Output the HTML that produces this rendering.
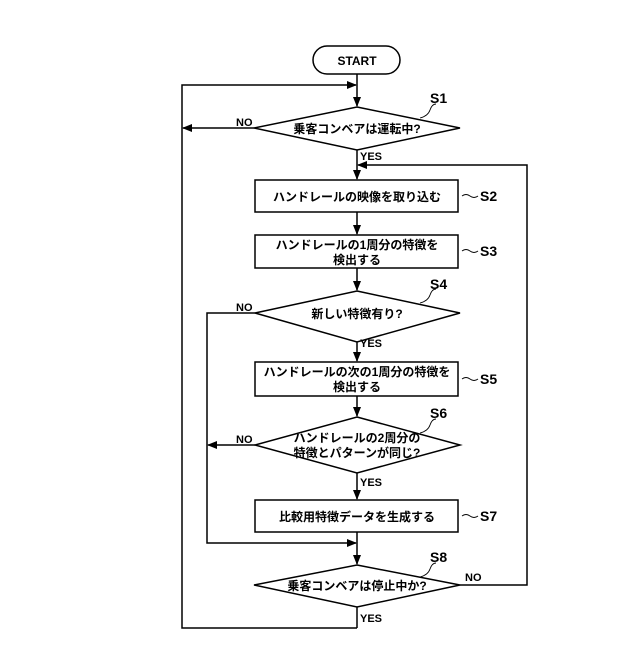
<!DOCTYPE html>
<html><head><meta charset="utf-8"><style>body{margin:0;background:#fff}</style></head><body>
<svg width="640" height="640" xmlns="http://www.w3.org/2000/svg" font-family="'Liberation Sans','Noto Sans CJK JP',sans-serif" font-size="12">
<defs><marker id="a" markerWidth="10" markerHeight="8" refX="9" refY="4" orient="auto" markerUnits="userSpaceOnUse"><path d="M0,0 L10,4 L0,8 z" fill="#000"/></marker></defs>
<g stroke="#000" stroke-width="1.5" fill="none">
<rect x="313" y="46" width="87" height="28" rx="14"/>
<line x1="357" y1="74" x2="357" y2="106" marker-end="url(#a)"/>
<polyline points="357,628 182,628 182,85 356,85" marker-end="url(#a)"/>
<polygon points="357,107 460,128 357,150 254,128"/>
<line x1="254" y1="128" x2="183" y2="128" marker-end="url(#a)"/>
<line x1="357" y1="150" x2="357" y2="179" marker-end="url(#a)"/>
<polyline points="460,585 527,585 527,165 358,165" marker-end="url(#a)"/>
<rect x="255" y="180" width="203" height="32"/>
<line x1="357" y1="212" x2="357" y2="234" marker-end="url(#a)"/>
<rect x="255" y="235" width="203" height="33"/>
<line x1="357" y1="268" x2="357" y2="290" marker-end="url(#a)"/>
<polygon points="357,291 460,313 357,342 255,313"/>
<polyline points="255,313 207,313 207,543 356,543" marker-end="url(#a)"/>
<line x1="357" y1="342" x2="357" y2="361" marker-end="url(#a)"/>
<rect x="255" y="362" width="203" height="34"/>
<line x1="357" y1="396" x2="357" y2="416" marker-end="url(#a)"/>
<polygon points="357,417 460,445 357,473 255,445"/>
<line x1="255" y1="445" x2="208" y2="445" marker-end="url(#a)"/>
<line x1="357" y1="473" x2="357" y2="499" marker-end="url(#a)"/>
<rect x="255" y="500" width="203" height="32"/>
<line x1="357" y1="532" x2="357" y2="564" marker-end="url(#a)"/>
<polygon points="357,565 460,585 357,607 254,585"/>
<line x1="357" y1="607" x2="357" y2="628"/>
<path d="M420,118 q8,-2 10,-8 t6,-6" stroke-width="0.9"/>
<path d="M420,303 q8,-2 10,-8 t6,-6" stroke-width="0.9"/>
<path d="M420,433 q8,-2 10,-8 t6,-6" stroke-width="0.9"/>
<path d="M420,577 q8,-2 10,-8 t6,-6" stroke-width="0.9"/>
<path d="M462,196 q4,-3 8,0 t8,0" stroke-width="0.9"/>
<path d="M462,251 q4,-3 8,0 t8,0" stroke-width="0.9"/>
<path d="M462,379 q4,-3 8,0 t8,0" stroke-width="0.9"/>
<path d="M462,516 q4,-3 8,0 t8,0" stroke-width="0.9"/>
</g>
<g fill="#000" text-anchor="middle" font-weight="bold">
<text x="357" y="65" font-size="12">START</text>
<text x="357" y="133">乗客コンベアは運転中?</text>
<text x="357" y="201">ハンドレールの映像を取り込む</text>
<text x="357" y="249">ハンドレールの1周分の特徴を</text>
<text x="357" y="264">検出する</text>
<text x="357" y="318">新しい特徴有り?</text>
<text x="357" y="376">ハンドレールの次の1周分の特徴を</text>
<text x="357" y="391">検出する</text>
<text x="357" y="442">ハンドレールの2周分の</text>
<text x="357" y="457">特徴とパターンが同じ?</text>
<text x="357" y="521">比較用特徴データを生成する</text>
<text x="357" y="590">乗客コンベアは停止中か?</text>
</g>
<g fill="#000" font-size="11" font-weight="bold">
<text x="236" y="126">NO</text><text x="360" y="160">YES</text>
<text x="236" y="311">NO</text><text x="360" y="347">YES</text>
<text x="236" y="443">NO</text><text x="360" y="486">YES</text>
<text x="465" y="581">NO</text><text x="360" y="622">YES</text>
</g>
<g fill="#000" font-size="14" font-weight="bold">
<text x="430" y="103">S1</text><text x="480" y="201">S2</text><text x="480" y="256">S3</text>
<text x="430" y="289">S4</text><text x="480" y="384">S5</text><text x="430" y="418">S6</text>
<text x="480" y="521">S7</text><text x="430" y="562">S8</text>
</g>
</svg>
</body></html>
